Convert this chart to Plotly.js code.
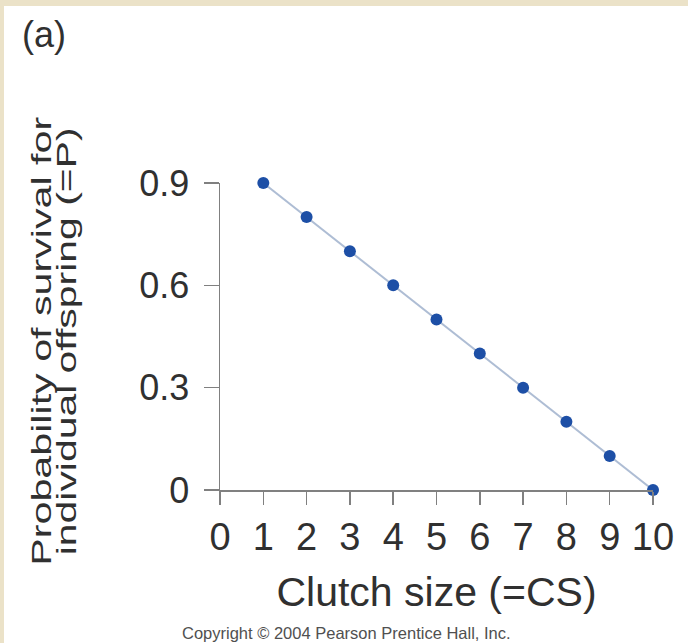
<!DOCTYPE html>
<html><head><meta charset="utf-8">
<script src="https://cdn.plot.ly/plotly-3.0.1.min.js"></script>
<style>
html,body{margin:0;padding:0;background:#ebe2c8;width:688px;height:643px;overflow:hidden;}
#chart{position:absolute;left:4px;top:6px;width:684px;height:637px;}
</style></head><body><div id="chart"></div>
<script>
const clutchSize = [1, 2, 3, 4, 5, 6, 7, 8, 9, 10];
const survivalProb = [0.9, 0.8, 0.7, 0.6, 0.5, 0.4, 0.3, 0.2, 0.1, 0];
const xTickVals = [0, 1, 2, 3, 4, 5, 6, 7, 8, 9, 10];
const xTickText = ["0", "1", "2", "3", "4", "5", "6", "7", "8", "9", "10"];
const yTickVals = [0, 0.3, 0.6, 0.9];
const yTickText = ["0", "0.3", "0.6", "0.9"];
const xTitle = "Clutch size (=CS)";
const yTitleLines = ["Probability of survival for", "individual offspring (=P)"];
const panelLabel = "(a)";
const credit = "Copyright \u00a9 2004 Pearson Prentice Hall, Inc.";

const W = 684, H = 637;
const M = {l: 216, r: 35, t: 177, b: 153};
const PW = W - M.l - M.r, PH = H - M.t - M.b;
const px = x => (x - M.l) / PW;
const py = y => (H - M.b - y) / PH;
const FONT = "Liberation Sans, Arial, Helvetica, sans-serif";
const TXT = "#303030";

const trace = {
  x: clutchSize, y: survivalProb, type: "scatter", mode: "lines+markers",
  line: {color: "#aebdd4", width: 2},
  marker: {color: "#1d4fa6", size: 12},
  cliponaxis: false, hoverinfo: "x+y"
};

const layout = {
  width: W, height: H,
  margin: M,
  paper_bgcolor: "#ffffff", plot_bgcolor: "#ffffff",
  showlegend: false,
  font: {family: FONT, color: TXT},
  xaxis: {
    range: [0, 10], tickvals: xTickVals, ticktext: xTickText,
    ticks: "outside", ticklen: 13, tickwidth: 1.5, tickcolor: "#808080",
    showline: true, linecolor: "#808080", linewidth: 1.5,
    showgrid: false, zeroline: false,
    tickfont: {size: 38, color: TXT, family: FONT},
    ticklabelstandoff: 0,
    title: {text: xTitle, font: {size: 41, color: TXT, family: FONT}, standoff: 20}
  },
  yaxis: {
    range: [0, 0.9], tickvals: yTickVals, ticktext: yTickText,
    ticks: "outside", ticklen: 15, tickwidth: 1.5, tickcolor: "#808080",
    showline: true, linecolor: "#808080", linewidth: 1.5,
    showgrid: false, zeroline: false,
    tickfont: {size: 36, color: TXT, family: FONT},
    ticklabelstandoff: 7
  },
  annotations: [
    {text: yTitleLines[0], xref: "paper", yref: "paper", x: px(37), y: py(336),
     xanchor: "center", yanchor: "middle", textangle: -90, showarrow: false,
     font: {size: 28, color: TXT, family: FONT}},
    {text: yTitleLines[1], xref: "paper", yref: "paper", x: px(62), y: py(336),
     xanchor: "center", yanchor: "middle", textangle: -90, showarrow: false,
     font: {size: 28, color: TXT, family: FONT}},
    {text: panelLabel, xref: "paper", yref: "paper", x: px(40), y: py(28),
     xanchor: "center", yanchor: "middle", showarrow: false,
     font: {size: 36, color: TXT, family: FONT}},
    {text: credit, xref: "paper", yref: "paper", x: px(342), y: py(627),
     xanchor: "center", yanchor: "middle", showarrow: false,
     font: {size: 16.5, color: "#505050", family: FONT}}
  ]
};

const TARGET_LEN = [449, 428];

Plotly.newPlot("chart", [trace], layout, {displayModeBar: false, staticPlot: true}).then(gd => {
  [0, 1].forEach(i => {
    const g = gd.querySelector('.annotation[data-index="' + i + '"] .annotation-text-g');
    if (!g) return;
    const t = g.querySelector('text');
    const tr = g.getAttribute('transform') || '';
    const m = tr.match(/rotate\(\s*(-?[\d.]+)[ ,]+(-?[\d.]+)[ ,]+(-?[\d.]+)\s*\)/);
    if (!m || !t) return;
    const cx = parseFloat(m[2]), cy = parseFloat(m[3]);
    const len = t.getComputedTextLength();
    const s = len > 0 ? TARGET_LEN[i] / len : 1;
    g.setAttribute('transform', tr + ' translate(' + cx + ',' + cy + ') scale(' + s + ',1) translate(' + (-cx) + ',' + (-cy) + ')');
  });
});
</script></body></html>
